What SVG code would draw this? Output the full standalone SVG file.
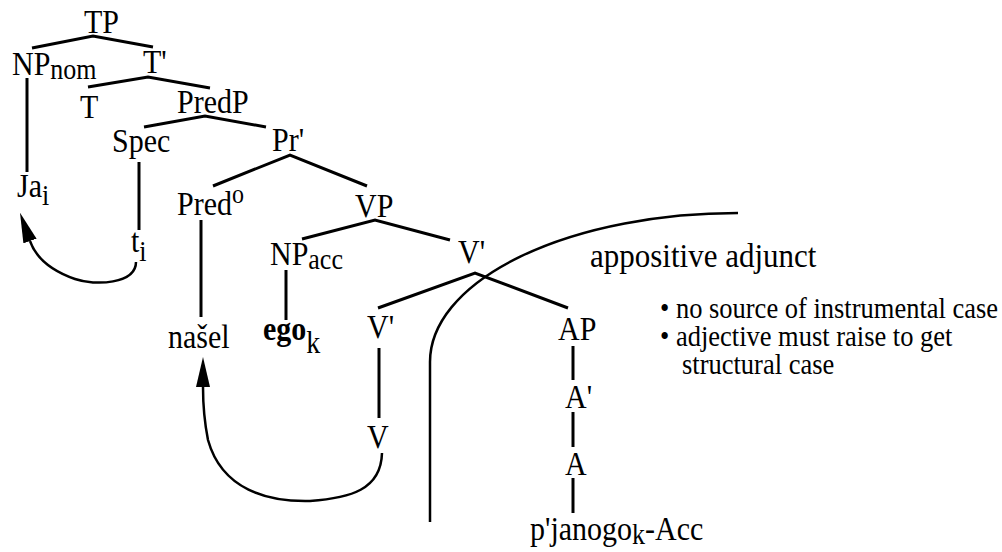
<svg xmlns="http://www.w3.org/2000/svg" width="1002" height="552" viewBox="0 0 1002 552">
<style>
text{font-family:"Liberation Serif","Times New Roman",serif;font-size:30px;fill:#000}
.sub{font-size:26px}
.note{font-size:26.5px}
.b{font-weight:bold}
.edge{stroke:#000;stroke-width:3;fill:none;stroke-linecap:butt}
.mv{stroke:#000;stroke-width:2.5;fill:none}
</style>
<defs>
<marker id="ah" viewBox="0 0 30 14" refX="0" refY="7" markerWidth="30" markerHeight="14" markerUnits="userSpaceOnUse" orient="auto"><path d="M0,0 L30,7 L0,14 z" fill="#000"/></marker>
</defs>
<rect width="1002" height="552" fill="#fff"/>
<g id="connectors">
<polyline class="edge" points="32,48 93,36 153,47"/>
<polyline class="edge" points="88,87 148,77 210,88"/>
<polyline class="edge" points="144,127 205,116 266,127"/>
<polyline class="edge" points="213,186 290,155 367,186"/>
<polyline class="edge" points="302,239 375,220 450,240"/>
<polyline class="edge" points="378,308 475,273 568,308"/>
<line class="edge" x1="27" y1="78" x2="27" y2="172"/>
<line class="edge" x1="139" y1="162" x2="139" y2="230"/>
<line class="edge" x1="201" y1="220" x2="201" y2="317"/>
<line class="edge" x1="286" y1="270" x2="286" y2="320"/>
<line class="edge" x1="379" y1="348" x2="379" y2="418"/>
<line class="edge" x1="573" y1="346" x2="573" y2="380"/>
<line class="edge" x1="573" y1="412" x2="573" y2="447"/>
<line class="edge" x1="573" y1="478" x2="573" y2="513"/>
<path class="mv" d="M738,213 A308,149 0 0 0 430,362 L430,522"/>
<path class="mv" marker-end="url(#ah)" d="M136,262 C136,284 95,286 75,279 C52,271 36,258 30,241"/>
<path class="mv" marker-end="url(#ah)" d="M382,453 C381,490 350,498 310,501 C268,502 222,490 208,440 C204,420 203,400 203,387"/>
</g>
<g id="TP"><text transform="matrix(1 0 0 1.1 84 33)">TP</text></g>
<g id="NPnom"><text transform="matrix(1 0 0 1.1 12 75)">NP<tspan class="sub" dy="4">nom</tspan></text></g>
<g id="Tbar"><text transform="matrix(1 0 0 1.1 143 73)">T'</text></g>
<g id="T"><text transform="matrix(1 0 0 1.1 80 118)">T</text></g>
<g id="PredP"><text transform="matrix(1 0 0 1.1 177 113)">PredP</text></g>
<g id="Spec"><text transform="matrix(1 0 0 1.1 112 152)">Spec</text></g>
<g id="Prbar"><text transform="matrix(1 0 0 1.1 272 151)">Pr'</text></g>
<g id="Ja"><text transform="matrix(1 0 0 1.1 17 197)">Ja<tspan class="sub" dy="7">i</tspan></text></g>
<g id="ti"><text transform="matrix(1 0 0 1.1 131 252)">t<tspan class="sub" dy="8">i</tspan></text></g>
<g id="Pred0"><text transform="matrix(1 0 0 1.1 177 215)">Pred<tspan style="font-size:24px" dy="-11">o</tspan></text></g>
<g id="VP"><text transform="matrix(1 0 0 1.1 355 217)">VP</text></g>
<g id="NPacc"><text transform="matrix(1 0 0 1.1 270 265)">NP<tspan class="sub" dy="4">acc</tspan></text></g>
<g id="nasel"><text transform="matrix(1 0 0 1.1 168 348)">našel</text></g>
<g id="ego"><text transform="matrix(1 0 0 1.1 263 340)"><tspan class="b">ego</tspan><tspan style="font-size:28px" dy="12">k</tspan></text></g>
<g id="Vbar1"><text transform="matrix(1 0 0 1.1 458 263)">V'</text></g>
<g id="Vbar2"><text transform="matrix(1 0 0 1.1 367 338)">V'</text></g>
<g id="AP"><text transform="matrix(1 0 0 1.1 558 340)">AP</text></g>
<g id="Abar"><text transform="matrix(1 0 0 1.1 565 408)">A'</text></g>
<g id="A"><text transform="matrix(1 0 0 1.1 565 475)">A</text></g>
<g id="V"><text transform="matrix(1 0 0 1.1 367 448)">V</text></g>
<g id="pjanogo"><text transform="matrix(1 0 0 1.1 530 540)">p'janogo<tspan class="sub" dy="4">k</tspan><tspan dy="-4">-Acc</tspan></text></g>
<g id="adjunct-label"><text transform="matrix(1 0 0 1.1 590 267)" style="font-size:31px">appositive adjunct</text></g>
<g id="notes">
<text class="note" transform="matrix(1 0 0 1.1 660 318)">• no source of instrumental case</text>
<text class="note" transform="matrix(1 0 0 1.1 660 346)">• adjective must raise to get</text>
<text class="note" transform="matrix(1 0 0 1.1 682 374)">structural case</text>
</g>
</svg>
